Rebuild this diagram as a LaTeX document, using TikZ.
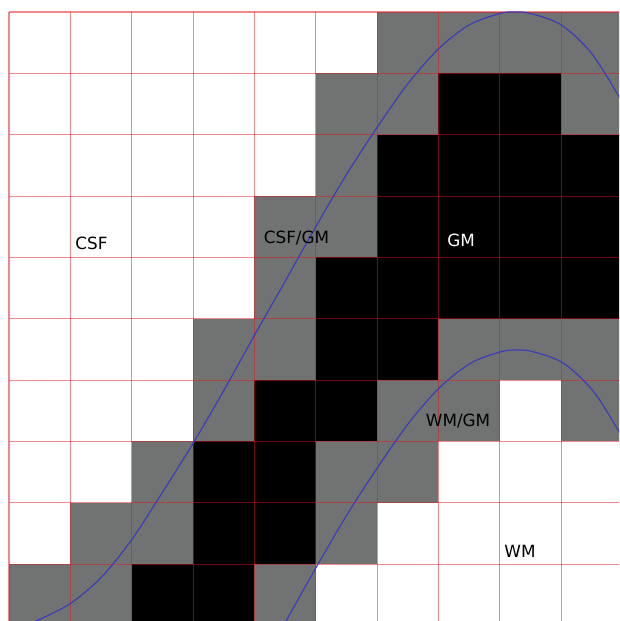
\documentclass[tikz,border=0pt]{standalone}
\usepackage{fontspec}
\setmainfont{DejaVu Sans}
\usepackage{xcolor}
\usepackage{tikz}
\definecolor{partial}{RGB}{112,115,114}
\definecolor{gridred}{RGB}{225,20,30}
\definecolor{bndblue}{RGB}{60,60,185}

\begin{document}
\begin{tikzpicture}[
    graycell/.style={fill=partial},
    blackcell/.style={fill=black},
    gridline/.style={draw=gridred, line width=0.5pt, opacity=0.5},
    bnd/.style={draw=bndblue, line width=0.55pt},
    lbl/.style={font=\fontsize{7.8}{9}\selectfont, inner sep=0pt, text height=5.7pt, text depth=0pt},
]
\useasboundingbox (-0.147,0.074) rectangle (9.943,10.196);
\fill[white] (-0.147,0.074) rectangle (9.943,10.196);
\clip (-0.147,0.074) rectangle (9.943,10.196);

% partial volume voxels (row counted from the top)
\foreach \r/\cols in {1/{7,8,9,10}, 2/{6,7,10}, 3/{6}, 4/{5,6}, 5/{5},
                      6/{4,5,8,9,10}, 7/{4,7,8,10}, 8/{3,6,7}, 9/{2,3,6}, 10/{1,2,5}}
  \foreach \c in \cols
    \fill[graycell] (\c-1,10-\r) rectangle ++(1,1);
% grey matter voxels
\foreach \r/\cols in {2/{8,9}, 3/{7,8,9,10}, 4/{7,8,9,10}, 5/{6,7,8,9,10},
                      6/{6,7}, 7/{5,6}, 8/{4,5}, 9/{4,5}, 10/{3,4}}
  \foreach \c in \cols
    \fill[blackcell] (\c-1,10-\r) rectangle ++(1,1);

\foreach \i in {0,...,10} {
  \draw[gridline] (\i,0) -- (\i,10);
  \draw[gridline] (0,\i) -- (10,\i);
}

% tissue boundaries
\foreach \dx/\dy in {0/0, 0.03/-5.51}
  \draw[bnd, xshift=\dx cm, yshift=\dy cm] plot[smooth] coordinates {
    (0.2,-0.02) (0.5,0.1) (1.0,0.36) (1.5,0.78) (2.0,1.4) (2.5,2.17)
    (3.0,2.97) (3.5,3.83) (4.0,4.73) (4.5,5.61) (5.0,6.5) (5.5,7.35)
    (6.0,8.12) (6.5,8.83) (7.0,9.4) (7.5,9.79) (8.0,9.976) (8.25,10.0)
    (8.5,9.976) (9.0,9.79) (9.5,9.32) (10.0,8.52) (10.3,7.95)};

\node[lbl] (csf) at (1.345,6.235) {CSF};
\node[lbl] (csfgm) at (4.686,6.333) {CSF/GM};
\node[lbl, text=white] (gm) at (7.368,6.284) {GM};
\node[lbl] (wmgm) at (7.319,3.35) {WM/GM};
\node[lbl] (wm) at (8.329,1.206) {WM};
\end{tikzpicture}
\end{document}
